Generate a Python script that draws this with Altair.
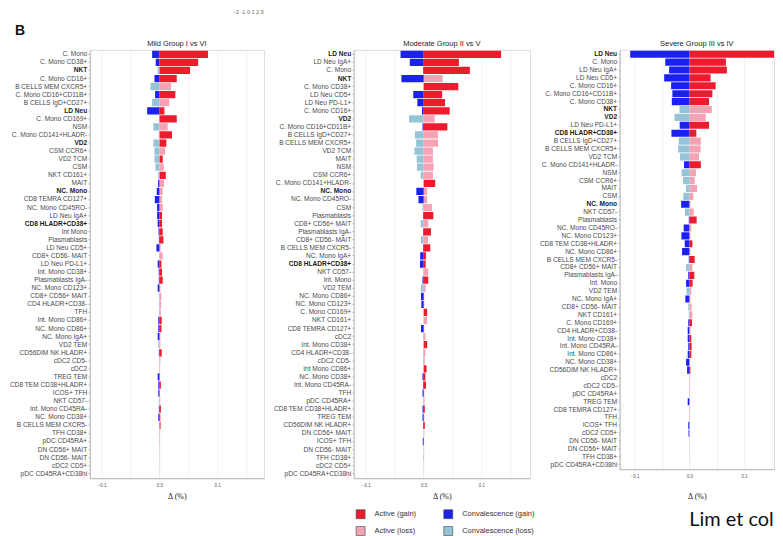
import altair as alt
import pandas as pd

# legend is laid out column-major (2 rows): column 1 = Active, column 2 = Convalescence
CATS = ["Active (gain)", "Active (loss)", "Convalescence (gain)", "Convalescence (loss)"]
COLORS = ["#EC1C2E", "#F4A3B4", "#1B22F0", "#94C4D6"]
BOLD = ["LD Neu", "NKT", "VD2", "NC. Mono", "CD8 HLADR+CD38+"]
TITLES = ["Mild Group I vs VI", "Moderate Group II vs V", "Severe Group III vs IV"]
X_TICKS = [-0.1, -0.05, 0.0, 0.05, 0.1, 0.15]
PANEL_LETTER = ["B"]
SCALE_TEXT = ["-2  -1  0  1  2  3"]
CREDIT = ["Lim et col"]

# ---------------- Mild ----------------
mild_cells = ["C. Mono", "C. Mono CD38+", "NKT", "C. Mono CD16+", "B CELLS MEM CXCR5+",
              "C. Mono CD16+CD11B+", "B CELLS IgD+CD27+", "LD Neu", "C. Mono CD169+", "NSM",
              "C. Mono CD141+HLADR-", "VD2", "CSM CCR6+", "VD2 TCM", "CSM", "NKT CD161+", "MAIT",
              "NC. Mono", "CD8 TEMRA CD127+", "NC. Mono CD45RO-", "LD Neu IgA+", "CD8 HLADR+CD38+",
              "Int Mono", "Plasmablasts", "LD Neu CD5+", "CD8+ CD56- MAIT", "LD Neu PD-L1+",
              "Int. Mono CD38+", "Plasmablasts IgA-", "NC. Mono CD123+", "CD8+ CD56+ MAIT",
              "CD4 HLADR+CD38-", "TFH", "Int. Mono CD86+", "NC. Mono CD86+", "NC. Mono IgA+",
              "VD2 TEM", "CD56DIM NK HLADR+", "cDC2 CD5-", "cDC2", "TREG TEM", "CD8 TEM CD38+HLADR+",
              "ICOS+ TFH", "NKT CD57-", "Int. Mono CD45RA-", "NC. Mono CD38+", "B CELLS MEM CXCR5-",
              "TFH CD38+", "pDC CD45RA+", "DN CD56+ MAIT", "DN CD56- MAIT", "cDC2 CD5+",
              "pDC CD45RA+CD38hi"]
mild_active = [0.084, 0.067, 0.053, 0.030, 0.020, 0.0276, 0.0172, 0.0086, 0.030, 0.0143,
               0.0218, 0.012, 0.0098, 0.0057, 0.0075, 0.011, 0.008, 0.0057, 0.0046, 0.0057,
               0.0046, 0.0046, 0.0057, 0.0069, 0.002, 0.0057, 0.0035, 0.0046, 0.0057, 0.0017,
               0.0035, 0.003, 0.0023, 0.004, 0.0035, 0.0017, 0.0015, 0.004, 0.0015, 0.001,
               0.001, 0.0025, 0.001, 0.0015, 0.0025, 0.0015, 0.002, 0.001, 0.0008, 0.0006,
               0.0005, 0.0004, 0.0003]
mild_active_gain = [1, 1, 1, 1, 0, 1, 0, 1, 1, 0, 1, 1, 0, 1, 0, 1, 0, 0, 0, 0, 1, 1, 1, 1, 0, 0,
                    1, 1, 1, 0, 0, 0, 0, 1, 1, 0, 0, 1, 0, 0, 0, 1, 0, 0, 1, 1, 1, 0, 0, 0, 0, 0, 0]
mild_conv = [0.0126, 0.0064, 0.003, 0.0086, 0.0155, 0.0075, 0.0126, 0.0212, 0.0005, 0.0103,
             0.001, 0.0103, 0.0086, 0.0086, 0.0069, 0.002, 0.0023, 0.0046, 0.008, 0.004,
             0.004, 0.003, 0.0015, 0.001, 0.0052, 0.0008, 0.003, 0.0012, 0.001, 0.003,
             0.001, 0.001, 0.001, 0.002, 0.002, 0.003, 0.002, 0.001, 0.0005, 0.0003,
             0.003, 0.002, 0.002, 0.001, 0.001, 0.002, 0.0005, 0.0003, 0.0003, 0.0002,
             0.0002, 0.0002, 0.0001]
mild_conv_gain = [1, 1, 0, 1, 0, 1, 0, 1, 0, 0, 0, 0, 0, 0, 0, 0, 1, 1, 1, 1, 1, 1, 1, 1, 1, 0,
                  1, 1, 1, 1, 0, 0, 0, 1, 1, 1, 0, 1, 0, 0, 1, 1, 1, 0, 1, 1, 0, 0, 0, 0, 0, 0, 0]

# ---------------- Moderate ----------------
mod_cells = ["LD Neu", "LD Neu IgA+", "C. Mono", "NKT", "C. Mono CD38+", "LD Neu CD5+",
             "LD Neu PD-L1+", "C. Mono CD16+", "VD2", "C. Mono CD16+CD11B+", "B CELLS IgD+CD27+",
             "B CELLS MEM CXCR5+", "VD2 TCM", "MAIT", "NSM", "CSM CCR6+", "C. Mono CD141+HLADR-",
             "NC. Mono", "NC. Mono CD45RO-", "CSM", "Plasmablasts", "CD8+ CD56+ MAIT",
             "Plasmablasts IgA-", "CD8+ CD56- MAIT", "B CELLS MEM CXCR5-", "NC. Mono IgA+",
             "CD8 HLADR+CD38+", "NKT CD57-", "Int. Mono", "VD2 TEM", "NC. Mono CD86+",
             "NC. Mono CD123+", "C. Mono CD169+", "NKT CD161+", "CD8 TEMRA CD127+", "cDC2",
             "Int. Mono CD38+", "CD4 HLADR+CD38-", "cDC2 CD5-", "Int Mono CD86+", "NC. Mono CD38+",
             "Int. Mono CD45RA-", "TFH", "pDC CD45RA+", "CD8 TEM CD38+HLADR+", "TREG TEM",
             "CD56DIM NK HLADR+", "DN CD56+ MAIT", "ICOS+ TFH", "DN CD56- MAIT", "TFH CD38+",
             "cDC2 CD5+", "pDC CD45RA+CD38hi"]
mod_active = [0.134, 0.061, 0.080, 0.033, 0.060, 0.032, 0.037, 0.045, 0.019, 0.041, 0.025,
              0.025, 0.016, 0.016, 0.0172, 0.016, 0.020, 0.006, 0.006, 0.0143, 0.0167, 0.008,
              0.0126, 0.0075, 0.0115, 0.004, 0.0035, 0.008, 0.008, 0.0035, 0.001, 0.001, 0.006,
              0.006, 0.001, 0.003, 0.006, 0.003, 0.002, 0.005, 0.003, 0.004, 0.001, 0.0015,
              0.002, 0.001, 0.002, 0.001, 0.0005, 0.0008, 0.0005, 0.0004, 0.0003]
mod_active_gain = [1, 1, 1, 0, 1, 1, 1, 1, 0, 1, 0, 0, 0, 0, 0, 0, 1, 0, 0, 0, 1, 0, 1, 0, 1, 1,
                   1, 0, 1, 0, 0, 0, 1, 0, 0, 0, 1, 0, 0, 1, 1, 1, 0, 0, 1, 0, 1, 0, 0, 0, 0, 0, 0]
mod_conv = [0.040, 0.024, 0.001, 0.0385, 0.0005, 0.018, 0.011, 0.003, 0.0253, 0.002, 0.015,
            0.013, 0.016, 0.0121, 0.0115, 0.005, 0.0005, 0.0127, 0.009, 0.002, 0.001, 0.0052,
            0.001, 0.0046, 0.001, 0.006, 0.0063, 0.001, 0.002, 0.0046, 0.0046, 0.004, 0.0003,
            0.0003, 0.0046, 0.001, 0.0005, 0.001, 0.001, 0.0005, 0.002, 0.001, 0.002, 0.001,
            0.002, 0.002, 0.001, 0.0003, 0.0015, 0.0003, 0.001, 0.0002, 0.0001]
mod_conv_gain = [1, 1, 1, 1, 0, 1, 1, 1, 0, 1, 0, 0, 0, 0, 0, 0, 0, 1, 1, 0, 1, 0, 1, 0, 1, 1,
                 1, 0, 1, 0, 1, 1, 0, 0, 1, 0, 0, 0, 0, 0, 1, 1, 1, 0, 1, 1, 1, 0, 1, 0, 0, 0, 0]

# ---------------- Severe ----------------
sev_cells = ["LD Neu", "C. Mono", "LD Neu IgA+", "LD Neu CD5+", "C. Mono CD16+",
             "C. Mono CD16+CD11B+", "C. Mono CD38+", "NKT", "VD2", "LD Neu PD-L1+",
             "CD8 HLADR+CD38+", "B CELLS IgD+CD27+", "B CELLS MEM CXCR5+", "VD2 TCM",
             "C. Mono CD141+HLADR-", "NSM", "CSM CCR6+", "MAIT", "CSM", "NC. Mono", "NKT CD57-",
             "Plasmablasts", "NC. Mono CD45RO-", "NC. Mono CD123+", "CD8 TEM CD38+HLADR+",
             "NC. Mono CD86+", "B CELLS MEM CXCR5-", "CD8+ CD56+ MAIT", "Plasmablasts IgA-",
             "Int. Mono", "VD2 TEM", "NC. Mono IgA+", "CD8+ CD56- MAIT", "NKT CD161+",
             "C. Mono CD169+", "CD4 HLADR+CD38-", "Int. Mono CD38+", "Int. Mono CD45RA-",
             "Int. Mono CD86+", "NC. Mono CD38+", "CD56DIM NK HLADR+", "cDC2", "cDC2 CD5-",
             "pDC CD45RA+", "TREG TEM", "CD8 TEMRA CD127+", "TFH", "ICOS+ TFH", "cDC2 CD5+",
             "DN CD56- MAIT", "DN CD56+ MAIT", "TFH CD38+", "pDC CD45RA+CD38hi"]
sev_active = [0.200, 0.0667, 0.0685, 0.0388, 0.048, 0.042, 0.036, 0.041, 0.030, 0.036, 0.0127,
              0.021, 0.0206, 0.0176, 0.021, 0.012, 0.0097, 0.014, 0.0073, 0.002, 0.008, 0.0133,
              0.0036, 0.002, 0.0055, 0.002, 0.0097, 0.0055, 0.009, 0.006, 0.0036, 0.002, 0.0042,
              0.0055, 0.0048, 0.002, 0.0035, 0.0042, 0.0036, 0.001, 0.002, 0.001, 0.001, 0.001,
              0.0008, 0.001, 0.0008, 0.0005, 0.0005, 0.0005, 0.0004, 0.0003, 0.0002]
sev_active_gain = [1, 1, 1, 1, 1, 1, 1, 0, 0, 1, 1, 0, 0, 0, 1, 0, 0, 0, 0, 0, 0, 1, 0, 0, 1, 0,
                   1, 0, 1, 1, 0, 0, 0, 0, 1, 0, 1, 1, 1, 0, 1, 0, 0, 0, 0, 0, 0, 0, 0, 0, 0, 0, 0]
sev_conv = [0.108, 0.044, 0.037, 0.046, 0.0333, 0.031, 0.032, 0.018, 0.027, 0.0176, 0.0327,
            0.0194, 0.0206, 0.017, 0.0097, 0.014, 0.0115, 0.006, 0.011, 0.015, 0.008, 0.001,
            0.0103, 0.0145, 0.0085, 0.0133, 0.001, 0.006, 0.002, 0.006, 0.005, 0.0073, 0.002,
            0.001, 0.002, 0.003, 0.003, 0.002, 0.003, 0.006, 0.0042, 0.0003, 0.0003, 0.0003,
            0.003, 0.0005, 0.0003, 0.002, 0.0015, 0.0002, 0.0002, 0.0002, 0.0001]
sev_conv_gain = [1, 1, 1, 1, 1, 1, 1, 0, 0, 1, 1, 0, 0, 0, 1, 0, 0, 0, 0, 1, 0, 1, 1, 1, 1, 1,
                 1, 0, 1, 1, 0, 1, 0, 0, 1, 1, 1, 1, 1, 1, 1, 0, 0, 0, 1, 0, 0, 1, 1, 0, 0, 0, 0]


def long_df(cells, act, act_g, conv, conv_g):
    rows = []
    for c, a, ag, v, vg in zip(cells, act, act_g, conv, conv_g):
        rows.append({"cell": c, "value": a, "cat": CATS[0] if ag else CATS[1]})
        rows.append({"cell": c, "value": -v, "cat": CATS[2] if vg else CATS[3]})
    return pd.DataFrame(rows)


bold_test = "indexof(" + str(BOLD) + ", datum.value) >= 0"
label_expr = ("(abs(datum.value) < 1e-9 || abs(abs(datum.value) - 0.1) < 1e-9) "
              "? format(datum.value, '.1f') : ''")


def text_layer(texts, x, y, size, align="left", baseline="alphabetic", weight="normal",
               font="Liberation Sans", color="#222"):
    return alt.Chart(pd.DataFrame({"t": texts})).mark_text(
        align=align, baseline=baseline, fontSize=size, fontWeight=weight, font=font,
        color=color).encode(x=alt.value(x), y=alt.value(y), text="t:N")


def panel(title, cells, df, domain, width, height, title_pad, legend, extra=()):
    bars = alt.Chart(df).mark_bar(clip=True).encode(
        x=alt.X("value:Q", title="Δ (%)",
                scale=alt.Scale(domain=domain, nice=False, zero=False),
                axis=alt.Axis(values=X_TICKS, labelExpr=label_expr, ticks=False,
                              labelFontSize=4.5, labelPadding=4, labelColor="#555",
                              titlePadding=title_pad, titleFont="Liberation Serif",
                              titleFontSize=8, titleFontWeight="normal", titleColor="#222",
                              gridColor="#e4e4e4", gridWidth=0.5,
                              domainColor="#9a9a9a", domainWidth=0.6)),
        y=alt.Y("cell:N", sort=cells, title=None,
                scale=alt.Scale(paddingInner=0.1, paddingOuter=0.1),
                axis=alt.Axis(bandPosition=0.5, labelFontSize=6.6, labelFont="Liberation Sans",
                              labelFontWeight={"condition": {"test": bold_test, "value": "bold"},
                                               "value": "normal"},
                              labelColor={"condition": {"test": bold_test, "value": "#1a1a1a"},
                                          "value": "#4a4a4a"},
                              labelPadding=1, labelLimit=300, labelOverlap=False,
                              tickSize=2, tickColor="#9a9a9a", tickWidth=0.5,
                              gridColor="#ececec", gridWidth=0.5,
                              domainColor="#9a9a9a", domainWidth=0.6)),
        color=alt.Color("cat:N", scale=alt.Scale(domain=CATS, range=COLORS), legend=legend),
    )
    ttl = text_layer([title], width / 2, -4, 7.5, align="center")
    return alt.layer(bars, ttl, *extra).properties(width=width, height=height)


letter = text_layer(PANEL_LETTER, -75, -15, 14, weight="bold", color="#111")
scale_txt = text_layer(SCALE_TEXT, 145, -38, 5.5, baseline="middle", color="#666")
credit = text_layer(CREDIT, 70, 478, 20, font="Lato", color="#111")

legend = alt.Legend(title=None, orient="none", legendX=2, legendY=461, columns=2,
                    symbolType="square", symbolSize=81, symbolStrokeColor="#444",
                    symbolStrokeWidth=0.6, symbolOpacity=1, labelFontSize=7.5,
                    labelFont="Liberation Sans", labelColor="#333", labelOffset=9,
                    columnPadding=26, rowPadding=5, padding=0)

p1 = panel(TITLES[0], mild_cells,
           long_df(mild_cells, mild_active, mild_active_gain, mild_conv, mild_conv_gain),
           [-0.1207, 0.181], 175, 430, 6, None, (letter, scale_txt))
p2 = panel(TITLES[1], mod_cells,
           long_df(mod_cells, mod_active, mod_active_gain, mod_conv, mod_conv_gain),
           [-0.1212, 0.184], 177, 430, 6, legend)
p3 = panel(TITLES[2], sev_cells,
           long_df(sev_cells, sev_active, sev_active_gain, sev_conv, sev_conv_gain),
           [-0.1273, 0.1545], 155, 421, 15, None, (credit,))

chart = alt.hconcat(p1, p2, p3, spacing=90, bounds="flush").resolve_scale(
    color="independent"
).properties(
    padding={"left": 0, "top": 0, "right": 0, "bottom": 0}
).configure_view(stroke="#d0d0d0", strokeWidth=0.6).configure(background="white")

chart.save("out.html", embed_options={"renderer": "svg", "actions": False})
